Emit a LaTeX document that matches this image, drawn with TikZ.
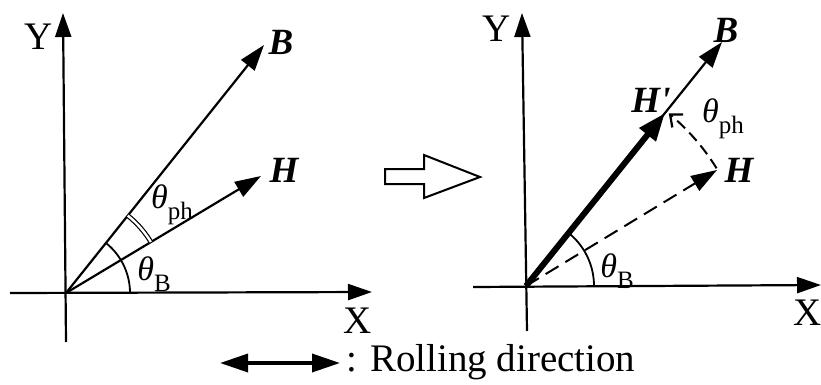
\documentclass[tikz,border=0pt]{standalone}
\usepackage{fontspec}
\setmainfont{Liberation Serif}
\usetikzlibrary{arrows.meta}
\begin{document}
\begin{tikzpicture}[x=1pt,y=-1pt,
  axis/.style={line width=2.2pt,-{Triangle[length=24pt,width=16pt]}},
  vec/.style={line width=2.2pt,-{Triangle[length=26pt,width=17pt]}},
  thickvec/.style={line width=6pt,-{Triangle[length=28pt,width=20pt]}},
  dashvec/.style={line width=2pt,dash pattern=on 15pt off 8pt,-{Triangle[length=26pt,width=17pt]}},
  arcline/.style={line width=1.8pt},
  lbl/.style={inner sep=0pt,font=\fontsize{39}{44}\selectfont},
  vlbl/.style={inner sep=0pt,font=\fontsize{37}{42}\selectfont\bfseries\itshape},
  anglbl/.style={inner sep=0pt,font=\fontsize{34}{38}\selectfont}]
\useasboundingbox (0,0) rectangle (821,385);
\newcommand{\angtext}[1]{\textit{θ}\raisebox{-0.32em}{\fontsize{25}{28}\selectfont #1}}

% ---------- left diagram ----------
\coordinate (O1) at (66,293);
\coordinate (Y1b) at (66,342);
\coordinate (Y1t) at (63,13);
\coordinate (X1l) at (10,293);
\coordinate (X1r) at (372,292);
\coordinate (B1) at (264,45);
\coordinate (H1) at (261,176);
\draw[axis] (Y1b) -- (Y1t);
\draw[axis] (X1l) -- (X1r);
\draw[vec] (O1) -- (B1);
\draw[vec] (O1) -- (H1);
\draw[arcline] plot[domain=0:51.4,samples=40] ({66+64*cos(\x)},{293-64*sin(\x)});
\draw[line width=1.2pt,double,double distance=2.4pt] plot[domain=31:51.4,samples=30] ({66+99*cos(\x)},{293-99*sin(\x)});
\node[lbl] (Y1) at (39,37) {Y};
\node[lbl] (X1) at (358,321) {X};
\node[vlbl] (B1l) at (281,42) {B};
\node[vlbl] (H1l) at (284,170) {H};
\node[anglbl] (tph1) at (172,205) {\angtext{ph}};
\node[anglbl] (tB1) at (154,274) {\angtext{B}};

% ---------- middle hollow arrow ----------
\draw[line width=2pt] (385,169) -- (424,169) -- (424,155) -- (480,177) -- (424,198) -- (424,184) -- (385,184) -- cycle;

% ---------- right diagram ----------
\coordinate (O2) at (526,286);
\coordinate (Y2b) at (527,331);
\coordinate (Y2t) at (522,13);
\coordinate (X2l) at (473,287);
\coordinate (X2r) at (821,285);
\coordinate (B2) at (722,42);
\coordinate (Hp2) at (665,113);
\coordinate (H2) at (717,170);
\draw[axis] (Y2b) -- (Y2t);
\draw[axis] (X2l) -- (X2r);
\draw[vec] (O2) -- (B2);
\draw[thickvec] (O2) -- (Hp2);
\draw[dashvec] (O2) -- (H2);
\draw[arcline] plot[domain=0:51.2,samples=40] ({526+68*cos(\x)},{286-68*sin(\x)});
\draw[line width=2pt,dash pattern=on 11pt off 6pt,-{Straight Barb[length=10pt,width=17pt,line width=2.2pt]}]
  plot[domain=31.7:50.4,samples=30] ({526+224*cos(\x)},{286-224*sin(\x)});
\node[lbl] (Y2) at (497,29) {Y};
\node[lbl] (X2) at (808,313) {X};
\node[vlbl] (B2l) at (726,30) {B};
\node[vlbl] (Hp2l) at (651,100) {H\textquotesingle};
\node[vlbl] (H2l) at (739,170) {H};
\node[anglbl] (tph2) at (723,119) {\angtext{ph}};
\node[anglbl] (tB2) at (617,271) {\angtext{B}};

% ---------- legend ----------
\coordinate (RL) at (220,363);
\coordinate (RR) at (340,363);
\draw[line width=3.5pt,{Triangle[length=28pt,width=18pt]}-{Triangle[length=28pt,width=18pt]}] (RL) -- (RR);
\node[lbl,anchor=base west] (leg) at (346,371) {: Rolling direction};
\end{tikzpicture}
\end{document}
